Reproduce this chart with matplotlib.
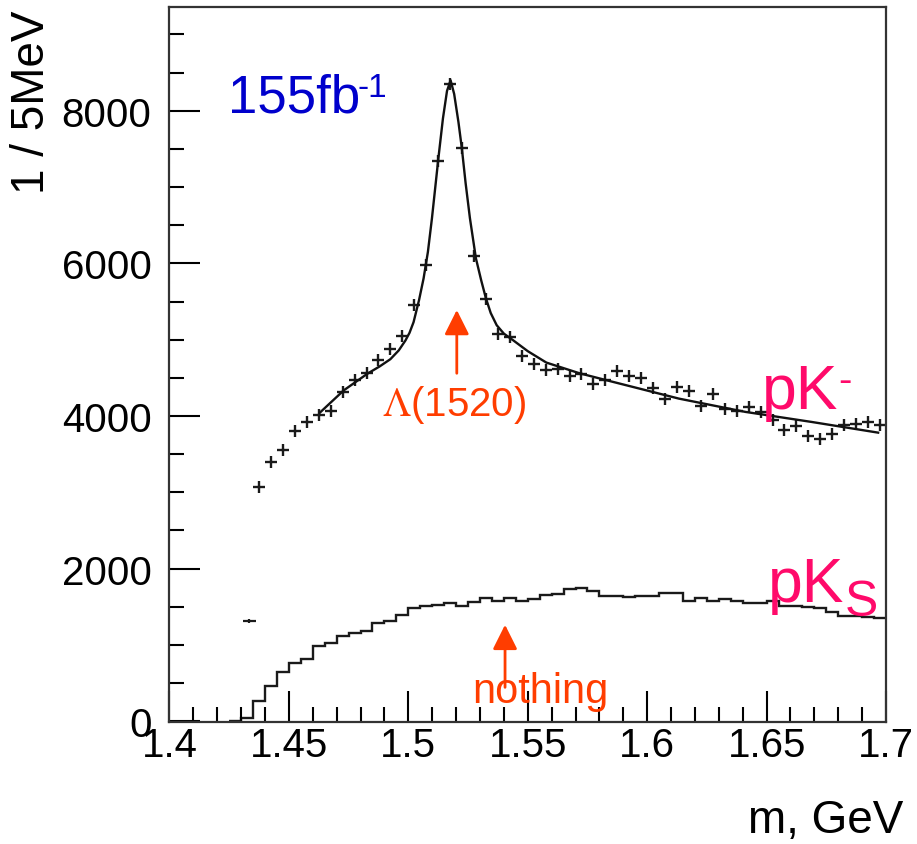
import numpy as np
import matplotlib
matplotlib.use('Agg')
import matplotlib.pyplot as plt
from matplotlib import ticker

plt.rcParams['font.family'] = ['Liberation Sans', 'DejaVu Sans']

# pK- data points (5 MeV bins)
pkm_x = np.arange(1.4375, 1.6976, 0.005)
pkm_y = [3073, 3397, 3559, 3808, 3925, 4018, 4062, 4316, 4469, 4566,
         4731, 4876, 5047, 5454, 5979, 7345, 8352, 7512, 6102, 5533,
         5069, 5030, 4790, 4688, 4600, 4622, 4526, 4556, 4425, 4469,
         4587, 4526, 4500, 4369, 4228, 4382, 4324, 4132, 4294, 4097,
         4062, 4119, 4054, 3944, 3812, 3865, 3738, 3703, 3769, 3887,
         3900, 3922, 3887]

# fit curve
fit_x = [1.463, 1.473, 1.483, 1.488, 1.4925, 1.496, 1.4988, 1.5005, 1.5022,
         1.5045, 1.5064, 1.5082, 1.5099, 1.5126, 1.5145, 1.5162, 1.5177,
         1.5192, 1.521, 1.5224, 1.524, 1.5258, 1.5283, 1.5305, 1.5325, 1.5345,
         1.537, 1.540, 1.544, 1.550, 1.5578, 1.5717, 1.5856, 1.6133, 1.6411,
         1.6689, 1.6967]
fit_y = [4045, 4337, 4557, 4650, 4745, 4860, 4990, 5090, 5230,
         5520, 5804, 6150, 6592, 7380, 7900, 8260, 8400,
         8220, 7850, 7512, 7050, 6592, 6067, 5780, 5542, 5350,
         5190, 5080, 4990, 4850, 4700, 4560, 4448, 4228, 4054,
         3922, 3782]

# pKs histogram
pks_edges = np.arange(1.425, 1.7001, 0.005)
pks_vals = [0, 48, 267, 464, 640, 762, 814, 989, 1020, 1112,
            1152, 1186, 1283, 1313, 1392, 1480, 1506, 1523, 1549, 1514,
            1567, 1615, 1571, 1611, 1571, 1602, 1654, 1668, 1733, 1746,
            1711, 1637, 1646, 1624, 1646, 1646, 1676, 1676, 1580, 1611,
            1580, 1602, 1571, 1549, 1549, 1580, 1506, 1506, 1501, 1479,
            1427, 1374, 1374, 1370, 1348]
stray_x, stray_y = [1.4335], [1317]

orange = '#ff3d00'
pink = '#ff0a6a'
blue = '#0000cc'

fig = plt.figure(figsize=(9.17, 8.45), dpi=100)
ax = fig.add_axes([0.1848, 0.1444, 0.7814, 0.8461])

ax.stairs(pks_vals, pks_edges, color='#1a1a1a', lw=1.7, baseline=None)
ax.errorbar(stray_x, stray_y, xerr=0.0027, yerr=25, fmt='none', ecolor='#1a1a1a', elinewidth=1.6)
ax.plot(pkm_x, pkm_y, ls='none', marker='+', ms=9, mew=1.7, color='#1a1a1a')
ax.plot(fit_x, fit_y, color='#111111', lw=1.7)

ax.set_xlim(1.4, 1.7)
ax.set_ylim(-10, 9360)
ax.xaxis.set_major_locator(ticker.MultipleLocator(0.05))
ax.xaxis.set_minor_locator(ticker.MultipleLocator(0.01))
ax.yaxis.set_major_locator(ticker.MultipleLocator(2000))
ax.yaxis.set_minor_locator(ticker.MultipleLocator(500))
ax.xaxis.set_major_formatter(ticker.FormatStrFormatter('%g'))
ax.tick_params(which='both', direction='in', top=False, right=False, width=1.5, labelsize=29)
ax.tick_params(which='major', length=22)
ax.tick_params(which='minor', length=11)
ax.tick_params(axis='x', pad=3)
ax.tick_params(axis='y', pad=13)
for s in ax.spines.values():
    s.set_linewidth(1.6)
    s.set_color('#333333')

fig.text(32 / 917, 1 - 10 / 845, '1 / 5MeV', rotation=90, ha='center', va='top', fontsize=33)
fig.text(903 / 917, 1 - 833 / 845, 'm, GeV', ha='right', va='baseline', fontsize=33)

# annotations
ax.text(1.4245, 7986, '155fb', color=blue, fontsize=38)
ax.text(1.4789, 8196, '-1', color=blue, fontsize=24)
ax.text(1.4889, 4016, r'$\Lambda$(1520)', color=orange, fontsize=29, math_fontfamily='stix')
ax.text(1.5267, 248, 'nothing', color=orange, fontsize=30)
ax.annotate('', xy=(1.5203, 5390), xytext=(1.5203, 4560),
            arrowprops=dict(arrowstyle='-|>', color=orange, lw=2, mutation_scale=37.5, shrinkA=0, shrinkB=0))
ax.annotate('', xy=(1.5405, 1264), xytext=(1.5405, 444),
            arrowprops=dict(arrowstyle='-|>', color=orange, lw=2, mutation_scale=37.5, shrinkA=0, shrinkB=0))
ax.text(1.6481, 4104, 'pK', color=pink, fontsize=45)
ax.text(1.6800, 4326, '-', color=pink, fontsize=29)
ax.text(1.6506, 1581, 'pK', color=pink, fontsize=45)
ax.text(1.6829, 1398, 'S', color=pink, fontsize=36)

fig.savefig('out.png', dpi=100)
